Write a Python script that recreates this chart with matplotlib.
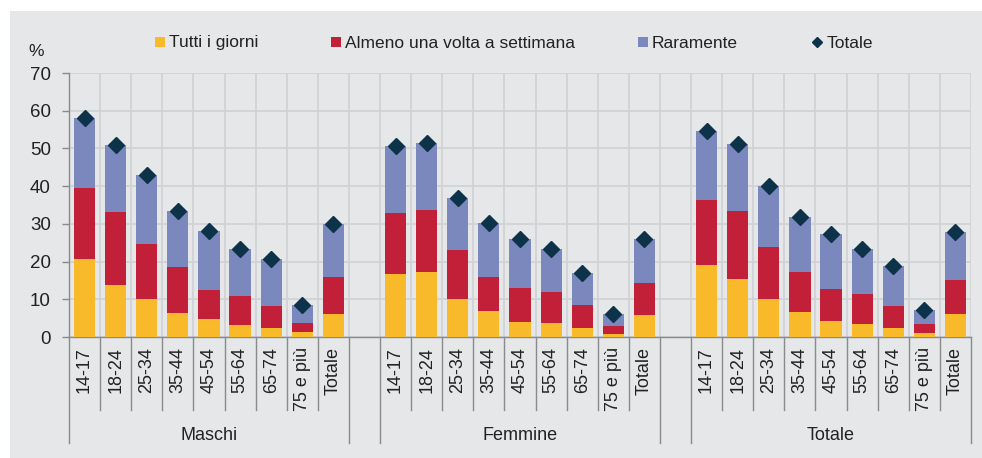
import matplotlib
matplotlib.use("Agg")
import matplotlib.pyplot as plt
import matplotlib.transforms as mtransforms
from matplotlib.patches import Rectangle
from matplotlib.lines import Line2D
import numpy as np

# ── Data ──────────────────────────────────────────────────────────────────────
groups = ["Maschi", "Femmine", "Totale"]
ages = ["14-17", "18-24", "25-34", "35-44", "45-54", "55-64", "65-74", "75 e più", "Totale"]

# cumulative tops: daily / daily+weekly / total
daily = {
    "Maschi":  [20.8, 13.9, 10.1, 6.3, 4.8, 3.1, 2.3, 1.3, 6.2],
    "Femmine": [16.8, 17.2, 10.1, 6.9, 4.0, 3.6, 2.4, 0.9, 5.8],
    "Totale":  [19.0, 15.5, 10.1, 6.5, 4.3, 3.4, 2.4, 1.1, 6.0],
}
weekly_top = {
    "Maschi":  [39.5, 33.2, 24.7, 18.5, 12.5, 10.9, 8.3, 3.7, 16.0],
    "Femmine": [32.9, 33.6, 23.2, 16.0, 13.1, 12.0, 8.4, 3.0, 14.4],
    "Totale":  [36.4, 33.4, 23.9, 17.2, 12.8, 11.4, 8.3, 3.4, 15.2],
}
total = {
    "Maschi":  [58.0, 50.9, 42.9, 33.5, 28.2, 23.3, 20.7, 8.6, 29.9],
    "Femmine": [50.7, 51.5, 36.8, 30.2, 26.0, 23.3, 16.9, 6.2, 25.9],
    "Totale":  [54.5, 51.3, 40.0, 31.7, 27.2, 23.3, 18.8, 7.1, 27.8],
}
legend_labels = ["Tutti i giorni", "Almeno una volta a settimana", "Raramente", "Totale"]

# ── Style ─────────────────────────────────────────────────────────────────────
C = {
    "yellow": "#F8B92A",
    "red":    "#C21F38",
    "blue":   "#7B88BD",
    "navy":   "#0C3349",
    "bg":     "#E6E7E9",
    "grid":   "#D0D1D3",
    "axis":   "#8A8A8A",
    "text":   "#222222",
}
plt.rcParams["font.family"] = ["Liberation Sans", "DejaVu Sans"]
FS = 12.5

W, H = 982, 458
fig = plt.figure(figsize=(W / 100, H / 100), dpi=100)
fig.patch.set_facecolor("white")
fig.patches.append(Rectangle((10 / W, 0), 1 - 10 / W, 1 - 11 / H,
                             transform=fig.transFigure, facecolor=C["bg"],
                             edgecolor="none", zorder=-10))

left, right, top, bottom = 69, 971, 73, 337
ax = fig.add_axes([left / W, 1 - bottom / H, (right - left) / W, (bottom - top) / H])
ax.set_facecolor(C["bg"])

n = len(ages)
pos = []
for g in range(len(groups)):
    pos.append(np.arange(n) + g * (n + 1))

bw = 0.68
for g, name in enumerate(groups):
    x = pos[g]
    d = np.array(daily[name])
    wk = np.array(weekly_top[name]) - d
    rr = np.array(total[name]) - np.array(weekly_top[name])
    ax.bar(x, d, bw, color=C["yellow"], zorder=3)
    ax.bar(x, wk, bw, bottom=d, color=C["red"], zorder=3)
    ax.bar(x, rr, bw, bottom=d + wk, color=C["blue"], zorder=3)
    ax.plot(x, total[name], linestyle="none", marker="D", markersize=8,
            color=C["navy"], zorder=4)

nslots = len(groups) * (n + 1) - 1
ax.set_xlim(-0.5, nslots - 0.5)
ax.set_ylim(0, 70)
ax.set_yticks(range(0, 71, 10))
ax.set_xticks(np.arange(0.5, nslots - 0.5 + 1e-9, 1.0), minor=True)
ax.set_xticks([])
ax.grid(axis="y", color=C["grid"], linewidth=1.2, zorder=1)
ax.grid(axis="x", which="minor", color=C["grid"], linewidth=1.2, zorder=1)
ax.tick_params(axis="x", which="both", length=0)
ax.tick_params(axis="y", direction="out", length=5, width=1, color=C["axis"],
               labelsize=FS + 1, labelcolor=C["text"], pad=8)
for s in ["top", "right"]:
    ax.spines[s].set_visible(False)
ax.spines["left"].set_color(C["axis"])
ax.spines["bottom"].set_color(C["axis"])
ax.spines["left"].set_linewidth(1)
ax.spines["bottom"].set_linewidth(1)

# ── Multi-level category axis ─────────────────────────────────────────────────
trans = mtransforms.blended_transform_factory(ax.transData, ax.transAxes)
ph = bottom - top
short_y = -73 / ph
long_y = -106 / ph
for g, name in enumerate(groups):
    x = pos[g]
    for xi, lab in zip(x, ages):
        ax.text(xi, -10 / ph, lab, rotation=90, ha="center", va="top",
                fontsize=FS + 0.5, color=C["text"], transform=trans)
    for b in x[1:] - 0.5:
        ax.plot([b, b], [0, short_y], color=C["axis"], linewidth=1,
                transform=trans, clip_on=False)
    for b in (x[0] - 0.5, x[-1] + 0.5):
        ax.plot([b, b], [0, long_y], color=C["axis"], linewidth=1,
                transform=trans, clip_on=False)
    ax.text(x.mean(), -98 / ph, name, ha="center", va="center",
            fontsize=FS + 0.5, color=C["text"], transform=trans)

fig.text(36 / W, 1 - 52 / H, "%", ha="center", va="center", fontsize=FS,
         color=C["text"])

# ── Legend (placed entry by entry, like the original) ─────────────────────────
ly = 1 - 42 / H
sq = 10
legend_x = [155, 331, 638, 813]
legend_colors = [C["yellow"], C["red"], C["blue"], None]
for xpx, lab, col in zip(legend_x, legend_labels, legend_colors):
    if col is not None:
        fig.patches.append(Rectangle((xpx / W, ly - sq / 2 / H), sq / W, sq / H,
                                     transform=fig.transFigure, facecolor=col,
                                     edgecolor="none"))
        tx = xpx + sq + 4
    else:
        fig.lines.append(Line2D([(xpx + 4) / W], [ly], transform=fig.transFigure,
                                linestyle="none", marker="D", markersize=5,
                                color=C["navy"]))
        tx = xpx + 14
    fig.text(tx / W, ly - 1 / H, lab, ha="left", va="center", fontsize=FS,
             color=C["text"])

fig.savefig("out.png", dpi=100, facecolor="white")
